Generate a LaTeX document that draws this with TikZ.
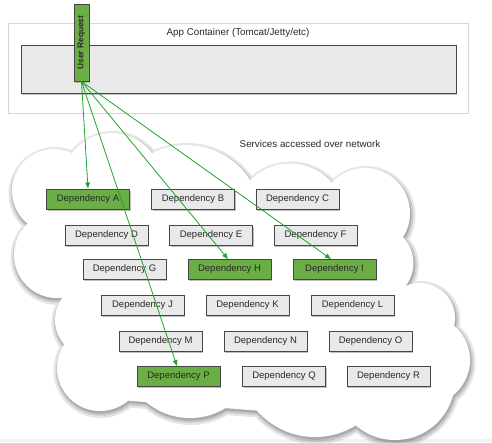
\documentclass[tikz,border=0pt]{standalone}
\usepackage{fontspec}
\setmainfont{Liberation Sans}
\usetikzlibrary{arrows.meta,shadows,calc}
\definecolor{boxfill}{RGB}{233,233,233}
\definecolor{boxline}{RGB}{70,70,70}
\definecolor{greenfill}{RGB}{106,174,69}
\definecolor{arrowgreen}{RGB}{30,165,40}
\definecolor{txt}{RGB}{40,40,40}
\definecolor{stripc}{RGB}{241,241,247}
\definecolor{contline}{RGB}{215,215,215}
\begin{document}
\begin{tikzpicture}[x=1pt,y=-1pt,
  dep/.style={draw=boxline, line width=0.9pt, fill=boxfill, minimum width=83pt, minimum height=20pt, inner sep=0pt,
    font=\fontsize{9.5}{11}\selectfont, text=txt,
    drop shadow={shadow xshift=1.3pt, shadow yshift=-1.8pt, opacity=0.5}},
  hot/.style={dep, fill=greenfill},
  req/.style={-{Triangle[length=6pt,width=4.5pt]}, draw=arrowgreen, line width=0.8pt},
  lbl/.style={font=\fontsize{9.8}{11}\selectfont, text=txt, inner sep=0pt},
  cloudpath/.style={insert path={
    (112,183) circle[radius=50]
    (186,221) circle[radius=76]
    (290,219) circle[radius=55.6]
    (365,213) circle[radius=45]
    (376,263) circle[radius=37.4]
    (54,191) circle[radius=42]
    (57,255) circle[radius=43]
    (92,320) circle[radius=37]
    (100,368) circle[radius=43]
    (190,350) circle[radius=68]
    (315,360) circle[radius=77]
    (395,380) circle[radius=60]
    (425,360) circle[radius=45]
    (420,318) circle[radius=35]
    (60,200) -- (390,200) -- (400,300) -- (440,380) -- (380,420) -- (120,400) -- (70,320) -- cycle}}
]
\useasboundingbox (0,0) rectangle (492,442);
\fill[stripc] (0,438.5) rectangle (492,442);

% app container
\node[draw=contline, line width=0.6pt, fill=white, minimum width=460pt, minimum height=90pt, inner sep=0pt] (app) at (238,68) {};
\node[lbl] (apptitle) at (238,33) {App Container (Tomcat/Jetty/etc)};
\node[draw=boxline, line width=0.9pt, fill=boxfill, minimum width=435pt, minimum height=48pt, inner sep=0pt,
  drop shadow={shadow xshift=1.3pt, shadow yshift=-2pt, opacity=0.5}] (inner) at (238.5,69) {};
\node[draw=boxline, line width=0.9pt, fill=greenfill, minimum width=77pt, minimum height=15pt, inner sep=0pt,
  rotate=90, font=\bfseries\fontsize{8.3}{10}\selectfont, text=txt,
  drop shadow={shadow xshift=1.3pt, shadow yshift=-1.6pt, opacity=0.5}] (ur) at (81.5,42.5) {User Request};

% cloud
\begin{scope}[transparency group, opacity=0.10, shift={(1,2.5)}]
  \filldraw[black, line width=9pt, cloudpath];
\end{scope}
\begin{scope}[transparency group, opacity=0.12, shift={(1,2.5)}]
  \filldraw[black, line width=4.5pt, cloudpath];
\end{scope}
\begin{scope}[transparency group, opacity=0.15, shift={(0.8,2)}]
  \filldraw[black, line width=1.2pt, cloudpath];
\end{scope}
\fill[white, cloudpath];

\node[lbl] (svc) at (310,144) {Services accessed over network};

% dependencies
\node[hot] (A) at (88,199) {Dependency A};
\node[dep] (B) at (193,199) {Dependency B};
\node[dep] (C) at (297.5,199) {Dependency C};
\node[dep] (D) at (106.5,235) {Dependency D};
\node[dep] (E) at (211,235) {Dependency E};
\node[dep] (F) at (315.5,235) {Dependency F};
\node[dep] (G) at (124.5,269.5) {Dependency G};
\node[hot] (H) at (229.5,269.5) {Dependency H};
\node[hot] (I) at (334.5,269.5) {Dependency I};
\node[dep] (J) at (142.5,305.5) {Dependency J};
\node[dep] (K) at (247.5,305.5) {Dependency K};
\node[dep] (L) at (352.5,305.5) {Dependency L};
\node[dep] (M) at (160.5,341) {Dependency M};
\node[dep] (N) at (265.5,341) {Dependency N};
\node[dep] (O) at (370.5,341) {Dependency O};
\node[hot] (P) at (178.5,376.5) {Dependency P};
\node[dep] (Q) at (284,376.5) {Dependency Q};
\node[dep] (R) at (388.5,376.5) {Dependency R};

% requests
\draw[req] (ur.west) -- (A.north);
\draw[req] (ur.west) -- ($(P.north)+(-1.5,0)$);
\draw[req] (ur.west) -- ($(H.north)+(-1.5,0)$);
\draw[req] (ur.west) -- ($(I.north)+(-3.5,0)$);
\end{tikzpicture}
\end{document}
